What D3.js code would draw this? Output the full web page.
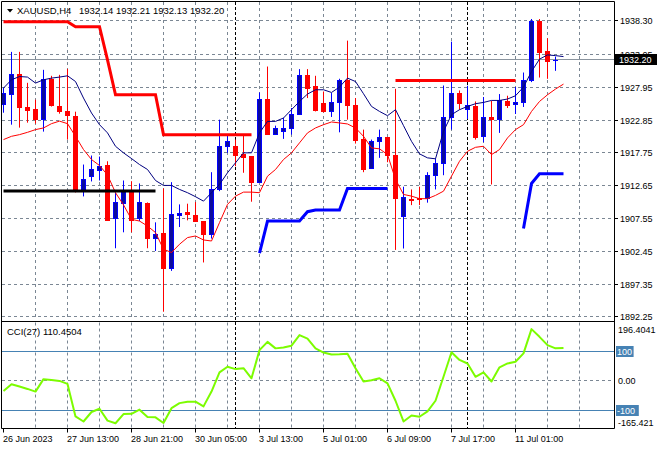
<!DOCTYPE html>
<html><head><meta charset="utf-8">
<script src="https://cdn.jsdelivr.net/npm/d3@7/dist/d3.min.js"></script>
<style>
body{margin:0;background:#fff}
svg{display:block}
text{font-family:"Liberation Sans",Arial,sans-serif;font-size:9px;fill:#000}
</style>
</head><body>
<svg id="c" width="660" height="450"></svg>
<script>
// ---------- DATA ----------
const symbol = "XAUUSD,H4";
const headerOHLC = "1932.14 1932.21 1932.13 1932.20";
const lastPrice = 1932.20;
const cciTitle = "CCI(27) 110.4504";

const categories = [
"26 Jun 05:00","26 Jun 09:00","26 Jun 13:00","26 Jun 17:00","26 Jun 21:00",
"27 Jun 01:00","27 Jun 05:00","27 Jun 09:00","27 Jun 13:00","27 Jun 17:00","27 Jun 21:00",
"28 Jun 01:00","28 Jun 05:00","28 Jun 09:00","28 Jun 13:00","28 Jun 17:00","28 Jun 21:00",
"29 Jun 01:00","29 Jun 05:00","29 Jun 09:00","29 Jun 13:00","29 Jun 17:00","29 Jun 21:00",
"30 Jun 01:00","30 Jun 05:00","30 Jun 09:00","30 Jun 13:00","30 Jun 17:00","30 Jun 21:00",
"3 Jul 01:00","3 Jul 05:00","3 Jul 09:00","3 Jul 13:00","3 Jul 17:00","3 Jul 21:00",
"4 Jul 01:00","4 Jul 05:00","4 Jul 09:00","4 Jul 13:00","4 Jul 17:00",
"5 Jul 01:00","5 Jul 05:00","5 Jul 09:00","5 Jul 13:00","5 Jul 17:00","5 Jul 21:00",
"6 Jul 01:00","6 Jul 05:00","6 Jul 09:00","6 Jul 13:00","6 Jul 17:00","6 Jul 21:00",
"7 Jul 01:00","7 Jul 05:00","7 Jul 09:00","7 Jul 13:00","7 Jul 17:00","7 Jul 21:00",
"10 Jul 01:00","10 Jul 05:00","10 Jul 09:00","10 Jul 13:00","10 Jul 17:00","10 Jul 21:00",
"11 Jul 01:00","11 Jul 05:00","11 Jul 09:00","11 Jul 13:00","11 Jul 17:00","11 Jul 21:00"];

const open = [1925.39,1926.83,1930.04,1924.92,1924.61,1923.06,1929.26,1925.08,1924.19,1923.53,
1912.17,1914.12,1915.05,1915.82,1907.56,1910.00,1911.90,1907.56,1910.00,1904.51,
1905.35,1899.77,1908.07,1908.54,1908.03,1907.14,1905.19,1912.06,1918.77,1918.77,
1917.59,1917.22,1913.19,1926.16,1920.69,1921.09,1921.62,1923.79,1929.88,1928.07,
1925.50,1924.19,1925.65,1929.11,1925.23,1919.96,1915.42,1919.54,1920.16,1917.48,
1907.92,1910.62,1910.66,1910.66,1914.38,1916.20,1923.33,1927.05,1924.57,1925.08,
1920.32,1923.33,1923.06,1925.85,1925.28,1925.65,1929.00,1938.30,1933.60,1932.14];
const high = [1927.87,1933.45,1933.45,1928.64,1926.01,1930.66,1929.73,1929.88,1930.81,1924.15,
1915.93,1917.33,1917.17,1916.44,1911.59,1913.45,1913.34,1912.99,1910.04,1906.94,
1912.21,1913.19,1909.73,1909.84,1910.09,1907.14,1914.74,1922.91,1920.58,1919.81,
1920.58,1917.22,1927.14,1931.17,1921.98,1923.17,1924.72,1930.77,1930.77,1929.73,
1927.29,1927.05,1929.27,1935.20,1926.27,1921.36,1919.81,1921.36,1920.16,1927.71,
1912.48,1912.06,1912.48,1914.74,1916.86,1928.22,1935.04,1927.45,1928.18,1925.74,
1926.43,1925.85,1926.89,1926.63,1927.98,1930.24,1938.56,1938.56,1935.57,1932.72];
const low = [1923.99,1922.13,1921.67,1922.44,1922.29,1921.05,1924.95,1923.84,1919.81,1911.59,
1910.97,1913.30,1913.45,1907.25,1902.91,1905.39,1905.39,1907.14,1902.91,1902.49,
1893.04,1899.39,1906.21,1907.25,1907.14,1900.70,1904.42,1911.79,1917.75,1915.67,
1914.65,1910.15,1913.10,1920.69,1920.69,1919.92,1920.58,1923.68,1926.27,1924.19,
1924.04,1923.33,1920.94,1922.91,1919.19,1914.74,1915.42,1916.97,1916.29,1902.65,
1902.87,1909.62,1909.62,1910.00,1912.06,1914.27,1921.36,1924.46,1923.02,1919.81,
1919.39,1912.83,1920.85,1924.72,1923.79,1924.88,1928.75,1929.46,1929.26,1930.50];
const close = [1927.09,1930.04,1924.81,1924.46,1923.06,1929.26,1925.12,1924.19,1923.57,1912.06,
1913.61,1915.16,1915.67,1907.30,1910.04,1911.83,1907.30,1910.09,1904.51,1905.19,
1899.77,1908.18,1908.34,1908.18,1907.14,1905.19,1912.06,1918.77,1919.54,1917.37,
1917.06,1913.19,1926.16,1920.69,1921.62,1921.62,1923.84,1929.88,1927.91,1924.46,
1924.19,1925.65,1929.11,1925.12,1919.70,1915.16,1919.65,1920.27,1917.37,1910.66,
1910.93,1910.40,1910.51,1914.38,1916.20,1923.33,1927.05,1925.50,1925.12,1920.16,
1923.33,1923.02,1926.01,1925.23,1925.65,1929.11,1938.30,1933.49,1932.10,1932.20];

// indicator lines (one extra point past the last bar, as drawn by the terminal)
const maNavy = [1927.82,1929.11,1929.62,1929.53,1928.60,1929.11,1929.37,1929.53,1929.73,1928.84,
1926.27,1923.95,1922.13,1920.85,1918.77,1917.75,1916.86,1915.93,1915.16,1913.45,
1912.68,1912.68,1912.06,1911.55,1910.93,1910.24,1911.55,1912.83,1914.65,1916.20,
1917.75,1917.75,1920.85,1922.64,1922.64,1923.17,1924.46,1925.74,1926.89,1927.56,
1927.56,1927.14,1927.98,1929.37,1928.84,1926.94,1924.97,1924.19,1923.53,1924.46,
1921.98,1919.54,1917.59,1916.97,1916.82,1921.09,1923.68,1924.46,1924.97,1925.39,
1925.59,1925.90,1925.90,1926.12,1926.63,1927.98,1930.39,1932.32,1932.98,1932.87,1932.72];
const maRed = [1919.81,1920.32,1920.58,1920.94,1921.36,1921.62,1922.29,1922.68,1922.29,1920.32,
1918.26,1916.71,1915.78,1914.31,1911.55,1909.66,1907.41,1907.14,1906.37,1905.35,
1902.76,1902.25,1903.53,1904.57,1904.82,1904.20,1904.04,1906.90,1909.73,1911.02,
1911.64,1911.64,1911.55,1914.12,1915.16,1916.71,1917.75,1919.30,1920.85,1921.62,
1922.13,1922.55,1922.40,1922.24,1921.62,1920.32,1918.52,1918.37,1917.48,1913.61,
1911.28,1911.02,1910.62,1910.62,1911.13,1911.79,1914.12,1916.44,1917.99,1918.61,
1918.77,1917.48,1918.26,1920.07,1921.36,1922.13,1924.19,1925.74,1926.78,1927.67,1928.44];
const N = null;
const resistance = [1938.14,1938.14,1938.14,1938.14,1938.14,1938.14,1938.14,1938.14,1938.14,1937.37,
1937.37,1937.37,1937.37,1932.20,1926.78,1926.78,1926.78,1926.78,1926.78,1926.78,
1920.58,1920.58,1920.58,1920.58,1920.58,1920.58,1920.58,1920.58,1920.58,1920.58,
1920.58,1920.58,N,N,N,N,N,N,N,N,
N,N,N,N,N,N,N,N,N,1929.00,
1929.00,1929.00,1929.00,1929.00,1929.00,1929.00,1929.00,1929.00,1929.00,1929.00,
1929.00,1929.00,1929.00,1929.00,1929.00,N,N,N,N,N,N];
const support = [N,N,N,N,N,N,N,N,N,N,
N,N,N,N,N,N,N,N,N,N,
N,N,N,N,N,N,N,N,N,N,
N,N,1902.14,1907.14,1907.14,1907.14,1907.14,1907.14,1908.60,1908.85,
1908.85,1908.85,1908.85,1912.21,1912.21,1912.21,1912.21,1912.21,1912.21,N,
N,N,N,N,N,N,N,N,N,N,
N,N,N,N,N,1905.97,1912.99,1914.49,1914.49,1914.49,1914.49];
const blackLevel = [1911.80,1911.80,1911.80,1911.80,1911.80,1911.80,1911.80,1911.80,1911.80,1911.80,
1911.80,1911.80,1911.80,1911.80,1911.80,1911.80,1911.80,1911.80,1911.80,1911.80];
const cci = [-35,-12,-20,-28,-37,5,2,-1,-11,-121,
-138,-106,-95,-135,-144,-113,-112,-98,-123,-124,
-143,-93,-76,-71,-71,-87,-37,28,47,39,
42,8,103,131,109,112,118,154,142,109,
95,88,89,91,42,-3,1,8,-9,-68,
-138,-118,-122,-104,-68,13,96,70,58,13,
28,-3,45,58,64,92,174,148,120,109,110.45];

const priceTicks = [1938.30,1933.05,1927.95,1922.85,1917.75,1912.65,1907.55,1902.45,1897.35,1892.25];
const cciMax = 196.4041, cciMin = -165.421;
const cciLevels = [100, -100];
const xTickCats = ["26 Jun 05:00","27 Jun 13:00","28 Jun 21:00","30 Jun 05:00","3 Jul 13:00","5 Jul 01:00","6 Jul 09:00","7 Jul 17:00","11 Jul 01:00"];
const xTickLabels = ["26 Jun 2023","27 Jun 13:00","28 Jun 21:00","30 Jun 05:00","3 Jul 13:00","5 Jul 01:00","6 Jul 09:00","7 Jul 17:00","11 Jul 01:00"];
const separatorCats = ["3 Jul 01:00","10 Jul 01:00"];

// ---------- LAYOUT ----------
const L = 1.5, R = 614.5, T = 1.5, MB = 320, CT = 321.5, CB = 428.5;
const svg = d3.select("#c");
const x = d3.scaleLinear().domain([0, 70]).range([3.5, 563.5]);
const y = d3.scaleLinear().domain([1892.25, 1938.30]).range([316.8, 20.7]);
const yc = d3.scaleLinear().domain([cciMin, cciMax]).range([429.6, 322.5]);
const px = v => Math.floor(v) + 0.5;
const idx = c => categories.indexOf(c);

const defs = svg.append("defs");
defs.append("clipPath").attr("id","cm").append("rect").attr("x",2).attr("y",2).attr("width",612).attr("height",MB-2);
defs.append("clipPath").attr("id","cc").append("rect").attr("x",2).attr("y",CT+0.5).attr("width",612).attr("height",CB-CT-1);

const gridCol = "#7b8794";
// vertical grid
const vg = d3.range(1, 19).map(k => 3.5 + 32*k);
svg.append("g").selectAll("line").data(vg).join("line")
  .attr("x1", d=>d).attr("x2", d=>d).attr("y1", 2).attr("y2", MB)
  .attr("stroke", gridCol).attr("stroke-dasharray","3,3");
svg.append("g").selectAll("line").data(vg).join("line")
  .attr("x1", d=>d).attr("x2", d=>d).attr("y1", CT+1).attr("y2", CB)
  .attr("stroke", gridCol).attr("stroke-dasharray","3,3");
// horizontal grid main
svg.append("g").selectAll("line").data(priceTicks).join("line")
  .attr("x1", 2).attr("x2", R).attr("y1", d=>px(y(d))).attr("y2", d=>px(y(d)))
  .attr("stroke", gridCol).attr("stroke-dasharray","3,3");
// cci zero grid
svg.append("line").attr("x1",2).attr("x2",R).attr("y1",px(yc(0))).attr("y2",px(yc(0)))
  .attr("stroke",gridCol).attr("stroke-dasharray","3,3");

// period separators
separatorCats.forEach(c => {
  const sx = x(idx(c));
  svg.append("line").attr("x1",sx).attr("x2",sx).attr("y1",2).attr("y2",CB)
    .attr("stroke","#000").attr("stroke-dasharray","3,2");
});

// last price line
svg.append("line").attr("x1",2).attr("x2",R).attr("y1",px(y(lastPrice))).attr("y2",px(y(lastPrice)))
  .attr("stroke","#8a949e").attr("stroke-width",1);

// ---------- MAIN PANEL ----------
const gm = svg.append("g").attr("clip-path","url(#cm)");
const bars = categories.map((c,i)=>({i, o:open[i], h:high[i], l:low[i], c:close[i]}));
gm.append("g").selectAll("line").data(bars).join("line")
  .attr("x1", d=>x(d.i)).attr("x2", d=>x(d.i))
  .attr("y1", d=>y(d.h)).attr("y2", d=>y(d.l))
  .attr("stroke", d=> d.c>=d.o ? "#0000ff" : "#ff0000").attr("stroke-width",1);
gm.append("g").selectAll("rect").data(bars).join("rect")
  .attr("x", d=>x(d.i)-2).attr("width", 4)
  .attr("y", d=>Math.round(y(Math.max(d.o,d.c)))+0.5)
  .attr("height", d=>Math.max(0.01, Math.round(y(Math.min(d.o,d.c))) - Math.round(y(Math.max(d.o,d.c)))))
  .attr("fill", d=> d.c>=d.o ? "#0b0b9c" : "#ff0000")
  .attr("stroke", d=> d.c>=d.o ? "#0000ff" : "#ff0000").attr("stroke-width",1);

const line = d3.line().defined(d=>d!=null).x((d,i)=>x(i)).y(d=>y(d));
gm.append("path").attr("d", line(maNavy)).attr("fill","none").attr("stroke","#000080").attr("stroke-width",1);
gm.append("path").attr("d", line(maRed)).attr("fill","none").attr("stroke","#ff0000").attr("stroke-width",1);
gm.append("path").attr("d", line(resistance)).attr("fill","none").attr("stroke","#ff0000").attr("stroke-width",3);
gm.append("path").attr("d", line(support)).attr("fill","none").attr("stroke","#0000ff").attr("stroke-width",3);
gm.append("path").attr("d", line(blackLevel)).attr("fill","none").attr("stroke","#000").attr("stroke-width",3);

// ---------- CCI PANEL ----------
const gc = svg.append("g").attr("clip-path","url(#cc)");
cciLevels.forEach(v=>{
  gc.append("line").attr("x1",2).attr("x2",R).attr("y1",px(yc(v))).attr("y2",px(yc(v)))
    .attr("stroke","#4682b4").attr("stroke-width",1);
});
const cline = d3.line().x((d,i)=>x(i)).y(d=>yc(d));
gc.append("path").attr("d", cline(cci)).attr("fill","none").attr("stroke","#7cfc00").attr("stroke-width",2).attr("stroke-linejoin","round");

// ---------- FRAMES ----------
const fr = svg.append("g").attr("stroke","#000").attr("stroke-width",1);
fr.append("line").attr("x1",L).attr("x2",R).attr("y1",T).attr("y2",T);
fr.append("line").attr("x1",L).attr("x2",R).attr("y1",CT).attr("y2",CT);
fr.append("line").attr("x1",L).attr("x2",R).attr("y1",CB).attr("y2",CB);
fr.append("line").attr("x1",L).attr("x2",L).attr("y1",T).attr("y2",CB);
fr.append("line").attr("x1",R).attr("x2",R).attr("y1",T).attr("y2",CB);

// ---------- AXES ----------
// right price axis
const ra = svg.append("g");
priceTicks.forEach(v=>{
  const yy = px(y(v));
  ra.append("line").attr("x1",R).attr("x2",R+3.5).attr("y1",yy).attr("y2",yy).attr("stroke","#000");
  ra.append("text").attr("x",620).attr("y",yy).attr("dy","0.35em").text(v.toFixed(2));
});
// current price box
const ly = px(y(lastPrice));
ra.append("rect").attr("x",615).attr("y",ly-5.5).attr("width",42).attr("height",11).attr("fill","#000");
ra.append("text").attr("x",619).attr("y",ly).attr("dy","0.35em").style("fill","#fff").text(lastPrice.toFixed(2));

// CCI axis
svg.append("text").attr("x",618).attr("y",330).attr("dy","0.35em").text(cciMax.toFixed(4));
svg.append("text").attr("x",618).attr("y",px(yc(0))).attr("dy","0.35em").text("0.00");
cciLevels.forEach(v=>{
  const yy = px(yc(v));
  const lbl = String(v);
  svg.append("rect").attr("x",616).attr("y",yy-5.5).attr("width", lbl.length*5.2+2).attr("height",11).attr("fill","#4682b4");
  svg.append("text").attr("x",617).attr("y",yy).attr("dy","0.35em").style("fill","#fff").text(lbl);
});
svg.append("text").attr("x",618).attr("y",423).attr("dy","0.35em").text(cciMin.toFixed(3));

// bottom time axis
xTickCats.forEach((c,k)=>{
  const xx = x(idx(c));
  svg.append("line").attr("x1",xx).attr("x2",xx).attr("y1",CB).attr("y2",CB+4).attr("stroke","#000");
  svg.append("text").attr("x",xx-0.5).attr("y",442).text(xTickLabels[k]);
});

// ---------- TITLES ----------
svg.append("path").attr("d","M7,9 L13,9 L10,12.5 Z").attr("fill","#000");
svg.append("text").attr("x",17).attr("y",14).style("font-size","9.5px").text(symbol);
svg.append("text").attr("x",79).attr("y",14).style("font-size","9.5px").text(headerOHLC);
svg.append("text").attr("x",7).attr("y",334.5).style("font-size","9.5px").text(cciTitle);
</script>
</body></html>
